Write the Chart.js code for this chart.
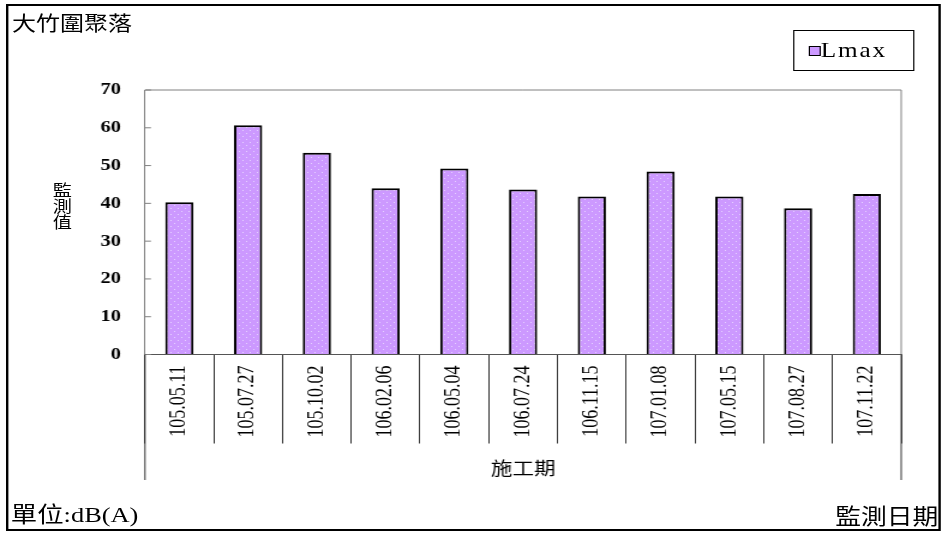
<!DOCTYPE html>
<html>
<head>
<meta charset="utf-8">
<script src="https://cdn.jsdelivr.net/npm/chart.js@4/dist/chart.umd.min.js"></script>
<style>
  html, body { margin: 0; padding: 0; background: #fff; overflow: hidden; }
  /* the original picture is a bit wider than tall text would be, so stretch the whole thing */
  #wrap { position: absolute; left: 0; top: 0; width: 787px; height: 533px;
          transform: scale(1.2, 1); transform-origin: 0 0; }
  #chart { position: absolute; left: 0; top: 0; }
  .frame { position: absolute; left: 5px; top: 4px; width: 775px; height: 523px; border: 2px solid #000; }
  .txt { position: absolute; color: #000; white-space: nowrap; }
  #title { left: 10px; top: 9px; font: 20px/28px "Noto Sans CJK TC", sans-serif; }
  #unit { left: 9px; top: 503px; font: 22px/24px "Liberation Serif", "Noto Sans CJK TC", serif; }
  #dateLabel { right: 5px; top: 503px; font: 21.5px/24px "Noto Sans CJK TC", sans-serif; }
  #yLabel { left: 43px; top: 181px; width: 18px; font: 16px/16px "Noto Sans CJK TC", sans-serif; text-align: center; }
  #legend { position: absolute; left: 661px; top: 30px; width: 99px; height: 39px; border: 1px solid #000;
            font: 21px/39px "Liberation Serif", serif; letter-spacing: 1.5px; }
  #legend .sw { position: absolute; left: 12px; top: 15px; width: 8px; height: 8px; background: #CC99FF; border: 1px solid #000; }
  #legend span.t { position: absolute; left: 22px; top: 0; }
</style>
</head>
<body>
<div id="wrap">
  <canvas id="chart" width="787" height="533"></canvas>
  <div class="frame"></div>
  <div class="txt" id="title">大竹圍聚落</div>
  <div class="txt" id="yLabel">監<br>測<br>值</div>
  <div class="txt" id="unit">單位:dB(A)</div>
  <div class="txt" id="dateLabel">監測日期</div>
  <div id="legend"><div class="sw"></div><span class="t">Lmax</span></div>
</div>
<script>
// monitoring dates (ROC calendar)
const dates = ['105.05.11', '105.07.27', '105.10.02', '106.02.06', '106.05.04', '106.07.24',
               '106.11.15', '107.01.08', '107.05.15', '107.08.27', '107.11.22'];
// Lmax values
const lmax = [40.3, 60.7, 53.4, 44.0, 49.2, 43.7, 41.8, 48.4, 41.8, 38.7, 42.5];
// y axis range
const yMin = 0;
const yMax = 70;
const yStep = 10;
const periodLabel = '施工期';

const ctx = document.getElementById('chart').getContext('2d');

// purple fill with small light dots, like the original
function dotPattern() {
    const c = document.createElement('canvas');
    c.width = 6;
    c.height = 6;
    const g = c.getContext('2d');
    g.fillStyle = '#CC99FF';
    g.fillRect(0, 0, 6, 6);
    g.fillStyle = '#E6D2FF';
    g.fillRect(1, 1, 1, 1);
    g.fillRect(4, 4, 1, 1);
    return ctx.createPattern(c, 'repeat');
}

// plot frame, inward y ticks and the long outer lines of the category band
const framePlugin = {
    id: 'framePlugin',
    afterDraw(chart) {
        const a = chart.chartArea;
        const y = chart.scales.y;
        const c = chart.ctx;
        c.save();
        c.lineWidth = 1;
        c.strokeStyle = '#808080';
        c.beginPath();
        c.moveTo(a.left, a.top);
        c.lineTo(a.right, a.top);
        c.lineTo(a.right, a.bottom);
        y.ticks.forEach((t, i) => {
            const py = y.getPixelForTick(i);
            c.moveTo(a.left, py);
            c.lineTo(a.left + 5, py);
        });
        c.stroke();
        c.strokeStyle = '#333';
        c.beginPath();
        c.moveTo(a.left, a.bottom);
        c.lineTo(a.left, 480);
        c.moveTo(a.right, a.bottom);
        c.lineTo(a.right, 480);
        c.stroke();
        c.restore();
    }
};

new Chart(ctx, {
    type: 'bar',
    data: {
        labels: dates,
        datasets: [{
            label: 'Lmax',
            data: lmax,
            backgroundColor: dotPattern(),
            borderColor: '#000',
            borderWidth: 2,
            barPercentage: 0.41,
            categoryPercentage: 1
        }]
    },
    options: {
        responsive: false,
        animation: false,
        layout: { padding: { top: 90, right: 36, left: 0, bottom: 0 } },
        plugins: {
            legend: { display: false },
            tooltip: { enabled: false }
        },
        scales: {
            x: {
                afterFit: (s) => { s.height = 178.5; },
                border: { color: '#555', width: 1 },
                grid: { drawOnChartArea: false, drawTicks: true, tickLength: 89, color: '#333', offset: true },
                ticks: {
                    minRotation: 90, maxRotation: 90, autoSkip: false,
                    padding: -78,
                    color: '#000',
                    font: { family: 'Liberation Serif', size: 18 }
                },
                title: {
                    display: true, text: periodLabel, color: '#000',
                    font: { family: 'Noto Sans CJK TC', size: 18 },
                    padding: { top: 0, bottom: 54 }
                }
            },
            y: {
                min: yMin, max: yMax,
                afterFit: (s) => { s.width = 120.8; },
                border: { color: '#808080', width: 1 },
                grid: { drawOnChartArea: false, drawTicks: false },
                ticks: {
                    stepSize: yStep, padding: 20, color: '#000',
                    font: { family: 'Liberation Serif', size: 17, weight: 'bold' }
                }
            }
        }
    },
    plugins: [framePlugin]
});
</script>
</body>
</html>
